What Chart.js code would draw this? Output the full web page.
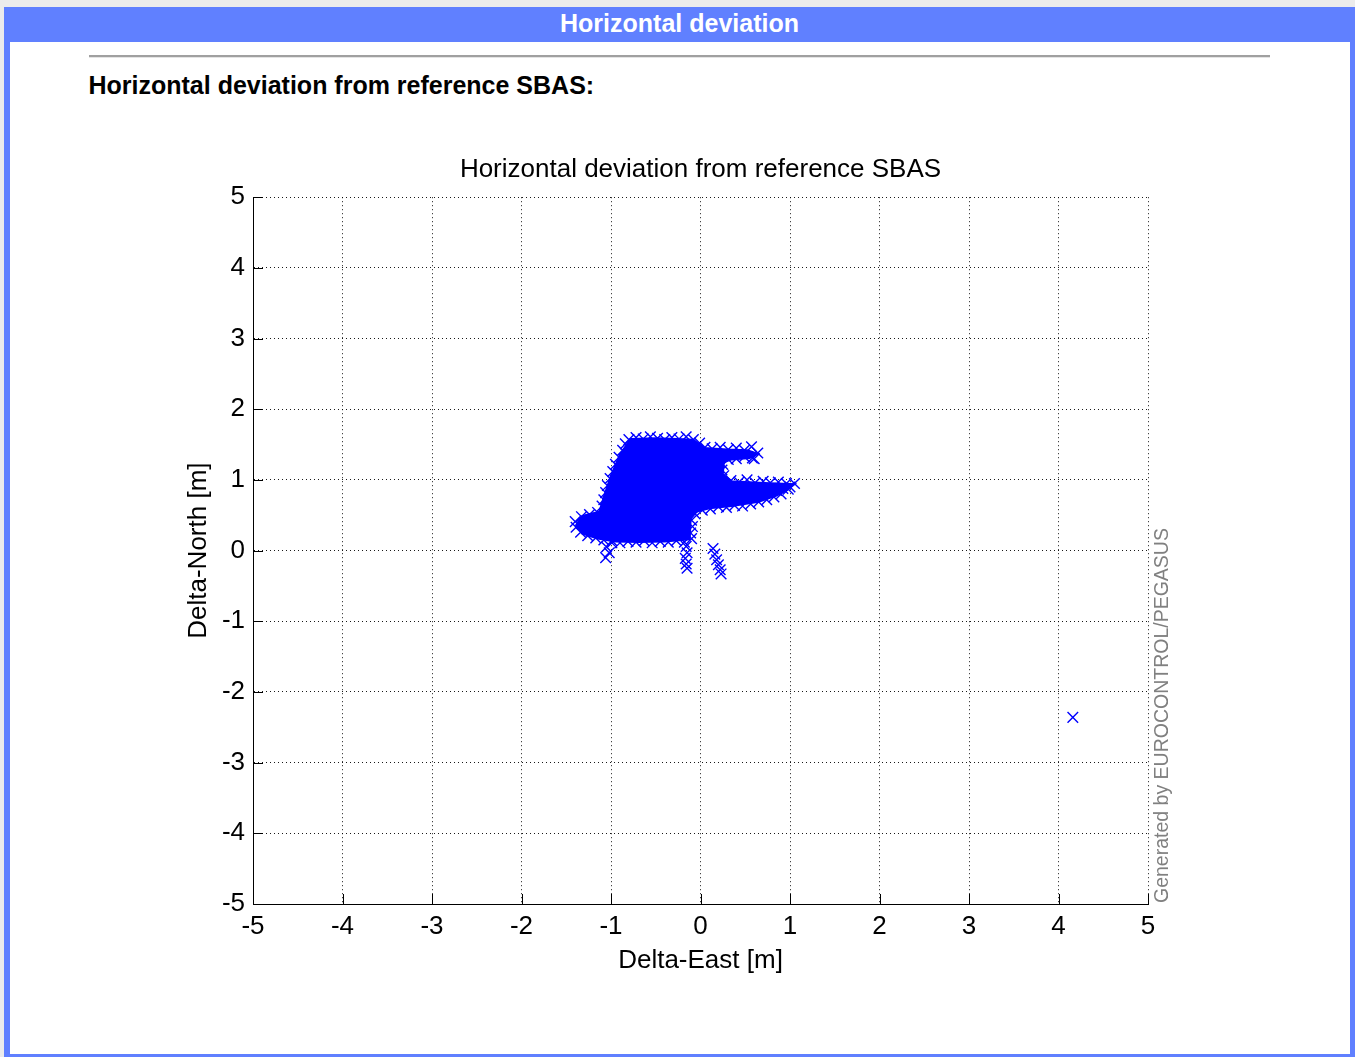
<!DOCTYPE html>
<html><head><meta charset="utf-8">
<script src="https://cdn.jsdelivr.net/npm/chart.js@4.4.1/dist/chart.umd.min.js"></script>
<style>
html,body{margin:0;padding:0;}
body{width:1355px;height:1057px;background:#ececec;position:relative;overflow:hidden;font-family:"Liberation Sans",Arial,sans-serif;}
#frame{position:absolute;left:4px;top:7px;width:1351px;height:1050px;background:#6080ff;}
#inner{position:absolute;left:6px;top:35px;right:5px;bottom:3px;background:#fff;}
#hdr{position:absolute;left:4px;width:1351px;top:11px;text-align:center;color:#fff;font-weight:bold;font-size:25px;line-height:25px;}
#hr{position:absolute;left:89px;width:1181px;top:55px;height:0;border-top:2px solid #a0a0a0;border-bottom:1px solid #e4e4e4;}
#heading{position:absolute;left:88.5px;top:73px;font-weight:bold;font-size:25px;line-height:25px;color:#000;white-space:nowrap;}
#wrap{position:absolute;left:140px;top:140px;width:1080px;height:860px;}
#wm{position:absolute;left:1151px;top:903px;transform:rotate(-90deg);transform-origin:0 0;white-space:nowrap;font-size:19.5px;line-height:20px;color:#808080;}
</style></head>
<body>
<div id="frame"><div id="inner"></div></div>
<div id="hdr">Horizontal deviation</div>
<div id="hr"></div>
<div id="heading">Horizontal deviation from reference SBAS:</div>
<div id="wrap"><canvas id="c" width="1080" height="860"></canvas></div>
<div id="wm">Generated by EUROCONTROL/PEGASUS</div>
<script>
// ---- data ----
const chartTitle = 'Horizontal deviation from reference SBAS';
const eastTicks = [-5,-4,-3,-2,-1,0,1,2,3,4,5];
const northTicks = [-5,-4,-3,-2,-1,0,1,2,3,4,5];
const eastTickLabels = ['-5','-4','-3','-2','-1','0','1','2','3','4','5'];
const northTickLabels = ['-5','-4','-3','-2','-1','0','1','2','3','4','5'];

// dense core of the point cloud (outline of the saturated region)
const coreEast  = [-0.78,-0.50,-0.25,-0.08,0.04,0.30,0.52,0.64,0.55,0.35,0.26,0.25,0.35,0.65,0.85,1.05,0.97,0.85,0.65,0.35,0.10,-0.05,-0.11,-0.12,-0.40,-0.70,-0.95,-1.15,-1.32,-1.39,-1.32,-1.13,-1.07,-1.00,-0.90,-0.78];
const coreNorth = [1.58,1.59,1.58,1.57,1.45,1.43,1.42,1.37,1.31,1.29,1.25,1.08,0.98,0.96,0.95,0.94,0.86,0.78,0.69,0.63,0.60,0.55,0.45,0.16,0.13,0.12,0.13,0.17,0.24,0.36,0.49,0.55,0.80,1.06,1.36,1.58];

// individual crosses (edge of cloud, tails, outlier)
const ptEast = [
 -0.80,-0.72,-0.64,-0.56,-0.48,-0.40,-0.32,-0.24,-0.16,-0.08,
 -0.01,0.05,
 0.13,0.22,0.31,0.40,0.49,0.57,0.64,0.60,
 0.58,0.49,0.40,0.31,0.25,
 0.24,0.26,
 0.34,0.43,0.52,0.61,0.70,0.78,0.87,0.96,1.05,
 1.00,0.92,0.85,0.78,0.70,0.62,
 0.98,0.90,0.82,0.74,0.65,0.56,0.47,0.38,0.29,0.20,0.11,0.02,
 -0.06,-0.10,-0.09,-0.11,-0.10,
 -0.18,-0.27,-0.36,-0.45,-0.54,-0.63,-0.72,-0.81,-0.90,-0.99,-1.08,
 -1.17,-1.26,-1.34,-1.39,-1.40,-1.33,-1.24,-1.15,
 -1.10,-1.08,-1.06,-1.04,-1.01,-0.98,-0.95,-0.91,-0.87,-0.84,
 -0.99,-1.05,-1.02,-1.06,
 -0.16,-0.15,-0.17,-0.16,-0.15,
 0.14,0.16,0.18,0.20,0.22,0.23,
 4.16
];
const ptNorth = [
 1.57,1.60,1.58,1.61,1.59,1.57,1.60,1.58,1.61,1.57,
 1.52,1.46,
 1.44,1.46,1.43,1.45,1.42,1.47,1.38,1.30,
 1.31,1.33,1.30,1.29,1.22,
 1.14,1.06,
 0.99,0.97,1.00,0.96,0.98,0.96,0.97,0.95,0.95,
 0.90,0.88,0.85,0.88,0.84,0.82,
 0.87,0.80,0.76,0.72,0.69,0.66,0.63,0.64,0.61,0.62,0.59,0.57,
 0.52,0.43,0.34,0.25,0.17,
 0.12,0.14,0.12,0.13,0.11,0.14,0.12,0.13,0.11,0.14,0.15,
 0.18,0.21,0.26,0.33,0.41,0.48,0.51,0.54,
 0.63,0.72,0.82,0.92,1.02,1.12,1.22,1.32,1.42,1.51,
 0.11,0.05,-0.03,-0.10,
 0.06,-0.03,-0.11,-0.19,-0.25,
 0.03,-0.05,-0.13,-0.20,-0.27,-0.33,
 -2.36
];
// ---------------------------------------

const FONT = '"Liberation Sans", Arial, sans-serif';
const BLUE = '#0000ff';

const insideTicks = {
  id: 'insideTicks',
  afterDatasetsDraw(chart) {
    const {ctx, chartArea: a, scales: {x, y}} = chart;
    ctx.save();
    ctx.strokeStyle = '#000';
    ctx.lineWidth = 1;
    ctx.beginPath();
    eastTicks.forEach(v => {
      const px = Math.round(x.getPixelForValue(v)) + 0.5;
      ctx.moveTo(px, a.bottom); ctx.lineTo(px, a.bottom - 10);
    });
    northTicks.forEach(v => {
      const py = Math.round(y.getPixelForValue(v)) + 0.5;
      ctx.moveTo(a.left, py); ctx.lineTo(a.left + 10, py);
    });
    ctx.stroke();
    ctx.restore();
  }
};

const gridOpts = {color: 'rgba(0,0,0,0.9)', lineWidth: 1, drawTicks: false};
const borderOpts = {display: true, color: '#000', width: 1, dash: [1, 3]};

new Chart(document.getElementById('c'), {
  type: 'scatter',
  data: {
    datasets: [
      {
        data: coreEast.map((e, i) => ({x: e, y: coreNorth[i]})),
        showLine: true,
        fill: 'shape',
        tension: 0,
        borderColor: BLUE,
        backgroundColor: BLUE,
        borderWidth: 2,
        pointRadius: 0,
        pointHoverRadius: 0
      },
      {
        data: ptEast.map((e, i) => ({x: e, y: ptNorth[i]})),
        pointStyle: 'crossRot',
        pointRadius: 7.5,
        pointHoverRadius: 7.5,
        borderColor: BLUE,
        backgroundColor: BLUE,
        borderWidth: 1.4
      }
    ]
  },
  options: {
    responsive: false,
    animation: false,
    devicePixelRatio: 1,
    events: [],
    layout: {padding: {left: 0, right: 72, top: 0, bottom: 0}},
    plugins: {
      legend: {display: false},
      tooltip: {enabled: false},
      title: {
        display: true,
        fullSize: false,
        text: chartTitle,
        color: '#000',
        font: {family: FONT, size: 26, weight: 'normal'},
        padding: {top: 14, bottom: 12}
      }
    },
    scales: {
      x: {
        type: 'linear', min: -5, max: 5,
        afterBuildTicks: s => { s.ticks = eastTicks.map(v => ({value: v})); },
        afterFit: s => { s.height = 96; },
        ticks: {
          color: '#000', padding: 7, maxRotation: 0, autoSkip: false,
          font: {family: FONT, size: 26},
          callback: v => eastTickLabels[eastTicks.indexOf(v)]
        },
        grid: gridOpts,
        border: borderOpts,
        title: {display: true, text: 'Delta-East [m]', color: '#000',
          font: {family: FONT, size: 26}, padding: {top: 0, bottom: 24}}
      },
      y: {
        type: 'linear', min: -5, max: 5,
        afterBuildTicks: s => { s.ticks = northTicks.map(v => ({value: v})); },
        afterFit: s => { s.width = 113; },
        ticks: {
          color: '#000', padding: 8, autoSkip: false,
          font: {family: FONT, size: 26},
          callback: v => northTickLabels[northTicks.indexOf(v)]
        },
        grid: gridOpts,
        border: borderOpts,
        title: {display: true, text: 'Delta-North [m]', color: '#000',
          font: {family: FONT, size: 26}, padding: {top: 43, bottom: 0}}
      }
    }
  },
  plugins: [insideTicks]
});
</script>
</body></html>
